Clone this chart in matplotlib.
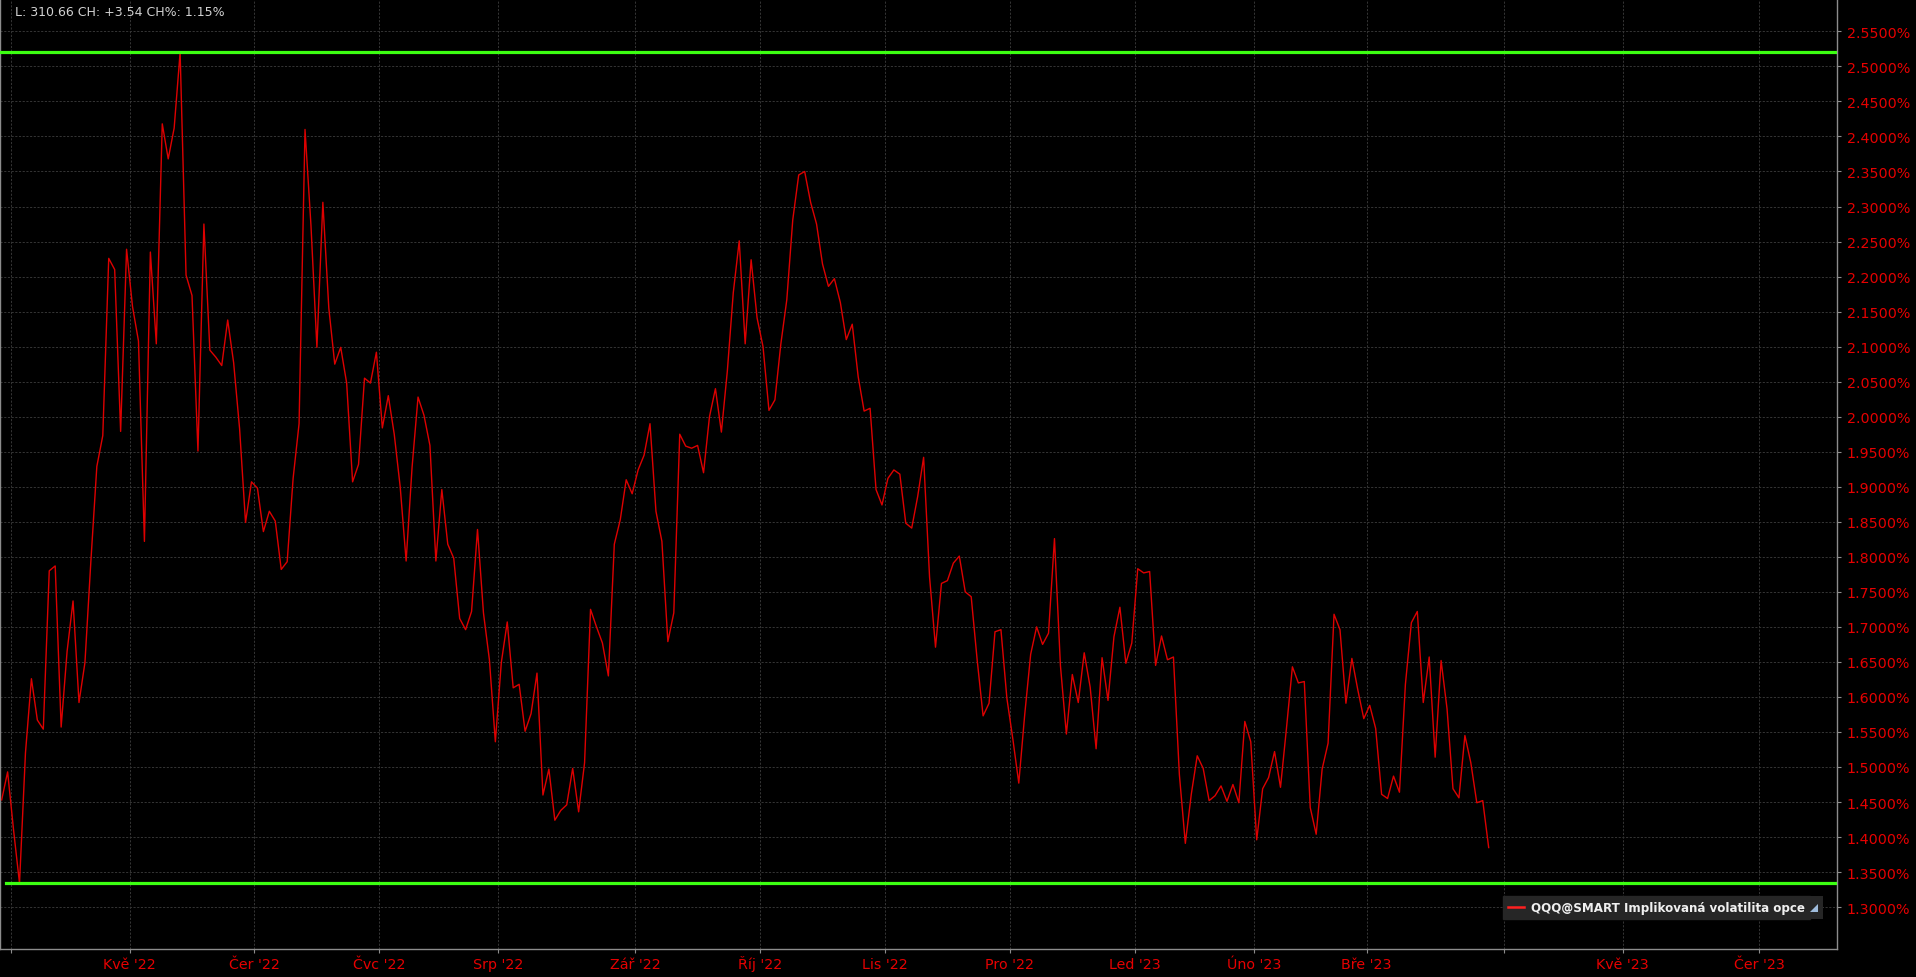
import numpy as np
import pandas as pd
import matplotlib
matplotlib.use("Agg")
import matplotlib.pyplot as plt
from matplotlib.lines import Line2D
from matplotlib.patches import Rectangle

# ---------------- data ----------------
start_date = "2022-03-30"
last_data_date = "2023-03-29"
axis_end_date = "2023-06-30"
market_holidays = ["2022-04-15", "2022-05-30", "2022-06-20", "2022-07-04",
                   "2022-09-05", "2022-11-24", "2022-12-26", "2023-01-02",
                   "2023-01-16", "2023-02-20"]

series_name = "QQQ@SMART Implikovaná volatilita opce"
header_text = "L: 310.66 CH: +3.54 CH%: 1.15%"

iv_values = [
    1.453, 1.493, 1.410, 1.334, 1.520, 1.626, 1.567, 1.554, 1.780, 1.787,
    1.557, 1.665, 1.737, 1.592, 1.649, 1.794, 1.929, 1.973, 2.226, 2.210,
    1.979, 2.239, 2.157, 2.108, 1.822, 2.235, 2.104, 2.418, 2.368, 2.412,
    2.520, 2.202, 2.173, 1.951, 2.275, 2.095, 2.085, 2.073, 2.138, 2.077,
    1.983, 1.849, 1.907,
    1.898, 1.836, 1.865, 1.851, 1.782, 1.793, 1.912, 1.990, 2.410, 2.273,
    2.099, 2.306, 2.155, 2.075, 2.099, 2.048, 1.907, 1.932, 2.055, 2.048,
    2.092, 1.984, 2.030, 1.975, 1.900, 1.794, 1.928, 2.028, 2.002, 1.959,
    1.794, 1.896, 1.818, 1.798, 1.712, 1.696, 1.722, 1.839, 1.720, 1.653,
    1.536, 1.649,
    1.707, 1.613, 1.618, 1.551, 1.576, 1.634, 1.460, 1.497, 1.424, 1.438,
    1.446, 1.498, 1.436, 1.506, 1.725, 1.700, 1.677, 1.630, 1.818, 1.853,
    1.910, 1.890, 1.924, 1.945, 1.990, 1.865, 1.822, 1.679, 1.720, 1.975,
    1.958, 1.955, 1.959, 1.920, 2.000, 2.040, 1.978, 2.065, 2.177, 2.251,
    2.104, 2.224,
    2.141, 2.100, 2.009, 2.024, 2.104, 2.167, 2.281, 2.345, 2.350, 2.306,
    2.275, 2.218, 2.186, 2.197, 2.163, 2.110, 2.132, 2.057, 2.008, 2.012,
    1.896, 1.874, 1.912, 1.924, 1.918, 1.848, 1.841, 1.886, 1.942, 1.771,
    1.671, 1.762, 1.766, 1.791, 1.801, 1.750, 1.743, 1.653, 1.573, 1.591,
    1.693, 1.696,
    1.598, 1.540, 1.477, 1.575, 1.661, 1.700, 1.675, 1.691, 1.826, 1.645,
    1.547, 1.632, 1.592, 1.663, 1.614, 1.526, 1.656, 1.595, 1.686, 1.728,
    1.648, 1.677, 1.783, 1.777, 1.779, 1.645, 1.687, 1.653, 1.657, 1.489,
    1.391, 1.461, 1.516, 1.498, 1.452, 1.459, 1.473, 1.451, 1.475, 1.449,
    1.565, 1.536,
    1.396, 1.469, 1.485, 1.522, 1.471, 1.555, 1.643, 1.620, 1.622, 1.442,
    1.404, 1.497, 1.534, 1.718, 1.696, 1.591, 1.655, 1.610, 1.569, 1.588,
    1.555, 1.461, 1.455, 1.487, 1.464, 1.618, 1.706, 1.722, 1.592, 1.657,
    1.514, 1.652, 1.583, 1.469, 1.456, 1.545, 1.506, 1.449, 1.452, 1.385,
]

month_abbr = ["Led", "Úno", "Bře", "Dub", "Kvě", "Čer",
              "Čvc", "Srp", "Zář", "Říj", "Lis", "Pro"]
unlabeled_months = [(2022, 4), (2023, 4)]
y_ticks = [1.30, 1.35, 1.40, 1.45, 1.50, 1.55, 1.60, 1.65, 1.70, 1.75, 1.80,
           1.85, 1.90, 1.95, 2.00, 2.05, 2.10, 2.15, 2.20, 2.25, 2.30, 2.35,
           2.40, 2.45, 2.50, 2.55]

# ---------------- x index (trading days, then weekdays) ----------------
hist = pd.bdate_range(start_date, last_data_date, freq="C", holidays=market_holidays)
fut = pd.bdate_range(pd.Timestamp(last_data_date) + pd.Timedelta(days=1), axis_end_date, freq="B")
all_dates = hist.append(fut)
n = len(iv_values)
x = np.arange(n)

tick_pos, tick_lab = [], []
prev = None
for i, d in enumerate(all_dates):
    key = (d.year, d.month)
    if prev is not None and key != prev:
        tick_pos.append(i - 0.5)
        tick_lab.append("" if key in unlabeled_months else f"{month_abbr[d.month-1]} '{d.year % 100:02d}")
    prev = key

# ---------------- figure ----------------
W, H = 1916, 978
fig = plt.figure(figsize=(W / 100, H / 100), dpi=100, facecolor="black")
ax = fig.add_axes([0, (H - 950) / H, 1837 / W, 950 / H])
ax.set_facecolor("black")

red = "#e60000"
grey = "#8c8c8c"

ax.plot(x, iv_values, color="#dd0000", lw=1.0, label=series_name, zorder=3)
vmax, vmin = max(iv_values), min(iv_values)
ax.axhline(vmax, color="#3cff12", lw=2.3, zorder=4)
ax.axhline(vmin, color="#3cff12", lw=2.3, xmin=0.003, zorder=4)

ax.set_xlim(-0.28, 308.56)
ax.set_ylim(1.2402, 2.5962)

ax.set_xticks(tick_pos)
ax.set_xticklabels(tick_lab, va="baseline")
ax.set_yticks(y_ticks)
ax.set_yticklabels([f"{v:.4f}%" for v in y_ticks])
ax.yaxis.tick_right()

ax.tick_params(axis="both", colors=grey, labelcolor=red, labelsize=10.3,
               length=3, width=0.8, direction="out")
ax.tick_params(axis="x", pad=10.5)
ax.tick_params(axis="y", pad=4)

ax.grid(True, color="#353535", linestyle=(0, (2.2, 1.6)), linewidth=0.7, zorder=0)

for s in ("left", "bottom", "right"):
    ax.spines[s].set_color(grey)
    ax.spines[s].set_linewidth(1.0)
ax.spines["top"].set_visible(False)

icon_room = 13  # px reserved at the right end of the legend for the small icon
leg = ax.legend(loc="center right",
                bbox_to_anchor=(0.9924 - icon_room / 1837, 0.0432),
                frameon=True, fancybox=False, framealpha=1.0,
                facecolor="#262626", edgecolor="#262626",
                prop={"weight": "bold", "size": 8.6},
                handlelength=1.35, handletextpad=0.55, borderpad=0.42,
                borderaxespad=0)
leg.set_zorder(6)
for t in leg.get_texts():
    t.set_color("#f0f0f0")
for h in leg.get_lines():
    h.set_linewidth(1.8)
    h.set_color("#ff2020")

fig.canvas.draw()
bb = leg.get_window_extent()
fig.add_artist(Rectangle((bb.x1 / W, bb.y0 / H), icon_room / W, (bb.y1 - bb.y0) / H,
                         transform=fig.transFigure, facecolor="#262626",
                         edgecolor="none", zorder=6))
fig.add_artist(Line2D([(bb.x1 + 4) / W], [(bb.y0 + bb.y1) / 2 / H],
                      transform=fig.transFigure,
                      marker=[(-1, -1), (1, -1), (1, 1)], markersize=6,
                      linestyle="none", color="#9fbcdc", markeredgewidth=0,
                      zorder=7))

fig.text(15 / W, 1 - 12 / H, header_text, color="#d2d2d2", fontsize=9,
         ha="left", va="center")

fig.savefig("out.png", dpi=100, facecolor="black")
